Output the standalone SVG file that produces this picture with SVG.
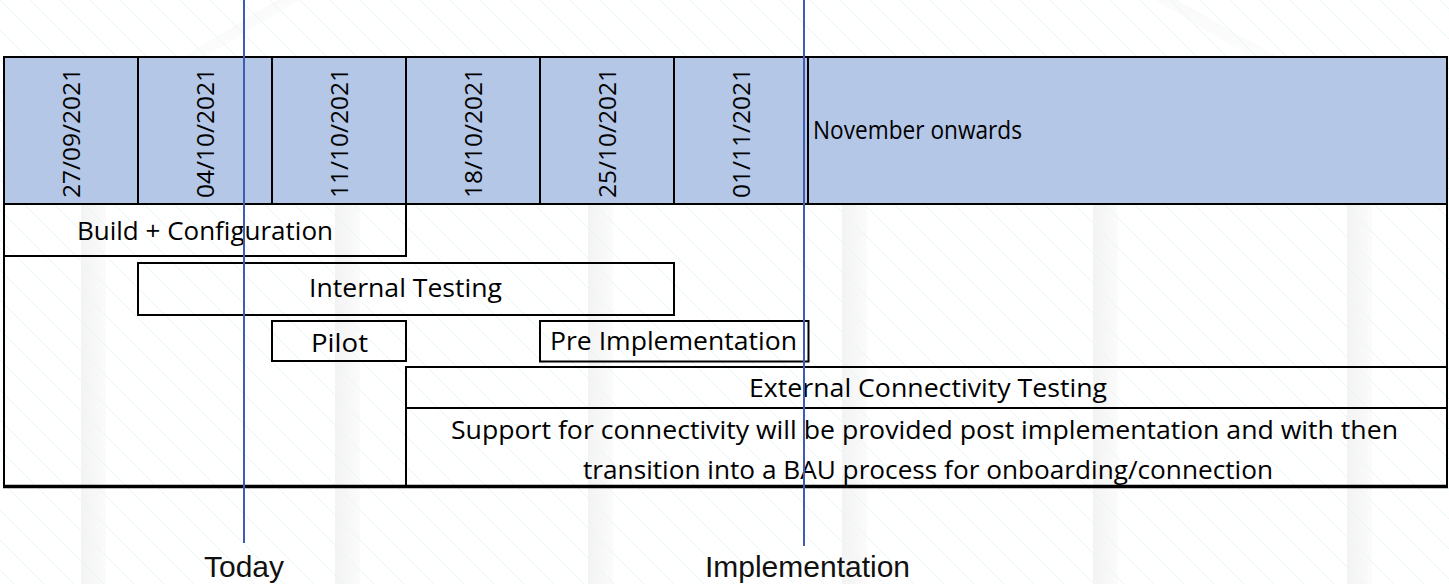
<svg xmlns="http://www.w3.org/2000/svg" width="1449" height="584" viewBox="0 0 1449 584">
  <style>
    .cell { fill: #b4c7e7; stroke: #000; stroke-width: 2; }
    .bar { fill: none; stroke: #000; stroke-width: 2; }
    .lbl { font-family: "Open Sans", "Noto Sans", sans-serif; font-size: 26px; fill: #000; }
    .date { font-family: "Open Sans", "Noto Sans", sans-serif; font-size: 24.5px; fill: #000; }
    .mk { stroke: #3f5cb0; stroke-width: 2; }
    .mklbl { font-family: "Liberation Sans", Arial, sans-serif; font-size: 30px; fill: #111; text-anchor: middle; }
  </style>
  <defs>
    <pattern id="hatch" patternUnits="userSpaceOnUse" width="30" height="30">
      <path d="M-5,-5 L35,35 M-5,25 L5,35 M25,-5 L35,5" stroke="#e6f6f3" stroke-width="1" fill="none"/>
    </pattern>
    <linearGradient id="pillar" x1="0" y1="0" x2="1" y2="0">
      <stop offset="0" stop-color="#f3f3f3"/>
      <stop offset="0.5" stop-color="#f7f7f7"/>
      <stop offset="1" stop-color="#fbfbfb"/>
    </linearGradient>
    <linearGradient id="roofL" x1="0" y1="0" x2="1" y2="1">
      <stop offset="0" stop-color="#eeeeee" stop-opacity="0.9"/>
      <stop offset="1" stop-color="#ffffff" stop-opacity="0"/>
    </linearGradient>
    <linearGradient id="roofR" x1="1" y1="0" x2="0" y2="1">
      <stop offset="0" stop-color="#eeeeee" stop-opacity="0.9"/>
      <stop offset="1" stop-color="#ffffff" stop-opacity="0"/>
    </linearGradient>
  </defs>

  <g id="background">
    <rect x="0" y="0" width="1449" height="584" fill="#ffffff"/>
    <rect x="81" y="57" width="25" height="527" fill="url(#pillar)"/>
    <rect x="335" y="57" width="25" height="527" fill="url(#pillar)"/>
    <rect x="588" y="57" width="25" height="527" fill="url(#pillar)"/>
    <rect x="842" y="57" width="25" height="527" fill="url(#pillar)"/>
    <rect x="1093" y="57" width="25" height="527" fill="url(#pillar)"/>
    <rect x="1347" y="57" width="25" height="527" fill="url(#pillar)"/>
    <polygon points="277,0 300,0 205,57 183,57" fill="url(#roofL)"/>
    <polygon points="1155,0 1177,0 1278,57 1250,57" fill="url(#roofR)"/>
    <rect x="0" y="0" width="1449" height="584" fill="url(#hatch)"/>
  </g>

  <g id="header">
    <g id="col-27-09">
      <rect class="cell" x="4" y="57" width="134" height="147"/>
      <text class="date" transform="translate(80,198) rotate(-90)" textLength="130" lengthAdjust="spacingAndGlyphs">27/09/2021</text>
    </g>
    <g id="col-04-10">
      <rect class="cell" x="138" y="57" width="134" height="147"/>
      <text class="date" transform="translate(213.5,198) rotate(-90)" textLength="130" lengthAdjust="spacingAndGlyphs">04/10/2021</text>
    </g>
    <g id="col-11-10">
      <rect class="cell" x="272" y="57" width="134" height="147"/>
      <text class="date" transform="translate(347.5,198) rotate(-90)" textLength="130" lengthAdjust="spacingAndGlyphs">11/10/2021</text>
    </g>
    <g id="col-18-10">
      <rect class="cell" x="406" y="57" width="134" height="147"/>
      <text class="date" transform="translate(481.5,198) rotate(-90)" textLength="130" lengthAdjust="spacingAndGlyphs">18/10/2021</text>
    </g>
    <g id="col-25-10">
      <rect class="cell" x="540" y="57" width="134" height="147"/>
      <text class="date" transform="translate(615.5,198) rotate(-90)" textLength="130" lengthAdjust="spacingAndGlyphs">25/10/2021</text>
    </g>
    <g id="col-01-11">
      <rect class="cell" x="674" y="57" width="134" height="147"/>
      <text class="date" transform="translate(749.5,198) rotate(-90)" textLength="130" lengthAdjust="spacingAndGlyphs">01/11/2021</text>
    </g>
    <g id="col-november">
      <rect class="cell" x="808" y="57" width="639" height="147"/>
      <text class="lbl" x="813" y="139" font-size="22.8" textLength="209" lengthAdjust="spacingAndGlyphs">November onwards</text>
    </g>
  </g>

  <g id="table-frame">
    <line x1="4" y1="204" x2="4" y2="487" stroke="#000" stroke-width="2"/>
    <line x1="1447" y1="204" x2="1447" y2="487" stroke="#000" stroke-width="2"/>
    <line x1="3" y1="486.5" x2="1448" y2="486.5" stroke="#000" stroke-width="3.5"/>
  </g>

  <g id="build-configuration">
    <rect class="bar" x="4" y="204" width="402" height="52"/>
    <text class="lbl" x="205" y="239.5" text-anchor="middle" textLength="256" lengthAdjust="spacingAndGlyphs">Build + Configuration</text>
  </g>
  <g id="internal-testing">
    <rect class="bar" x="138" y="263" width="536" height="52"/>
    <text class="lbl" x="405.5" y="297" text-anchor="middle" textLength="193" lengthAdjust="spacingAndGlyphs">Internal Testing</text>
  </g>
  <g id="pilot">
    <rect class="bar" x="272" y="321" width="134" height="40"/>
    <text class="lbl" x="339.5" y="352" text-anchor="middle" textLength="57" lengthAdjust="spacingAndGlyphs">Pilot</text>
  </g>
  <g id="pre-implementation">
    <rect class="bar" x="540" y="321" width="268.5" height="40.5"/>
    <text class="lbl" x="550" y="350" textLength="247" lengthAdjust="spacingAndGlyphs">Pre Implementation</text>
  </g>
  <g id="external-connectivity-testing">
    <rect class="bar" x="406" y="367" width="1041" height="41"/>
    <text class="lbl" x="928" y="397" text-anchor="middle" textLength="358" lengthAdjust="spacingAndGlyphs">External Connectivity Testing</text>
  </g>
  <g id="support">
    <rect class="bar" x="406" y="408" width="1041" height="79"/>
    <text class="lbl" x="924.5" y="438.5" text-anchor="middle" textLength="947" lengthAdjust="spacingAndGlyphs">Support for connectivity will be provided post implementation and with then</text>
    <text class="lbl" x="928" y="478.5" text-anchor="middle" textLength="690" lengthAdjust="spacingAndGlyphs">transition into a BAU process for onboarding/connection</text>
  </g>

  <g id="connectors">
    <g id="today-marker">
      <line class="mk" x1="244" y1="0" x2="244" y2="543"/>
      <text class="mklbl" x="244" y="577">Today</text>
    </g>
    <g id="implementation-marker">
      <line class="mk" x1="804" y1="0" x2="804" y2="546"/>
      <text class="mklbl" x="807.5" y="577">Implementation</text>
    </g>
  </g>
</svg>
